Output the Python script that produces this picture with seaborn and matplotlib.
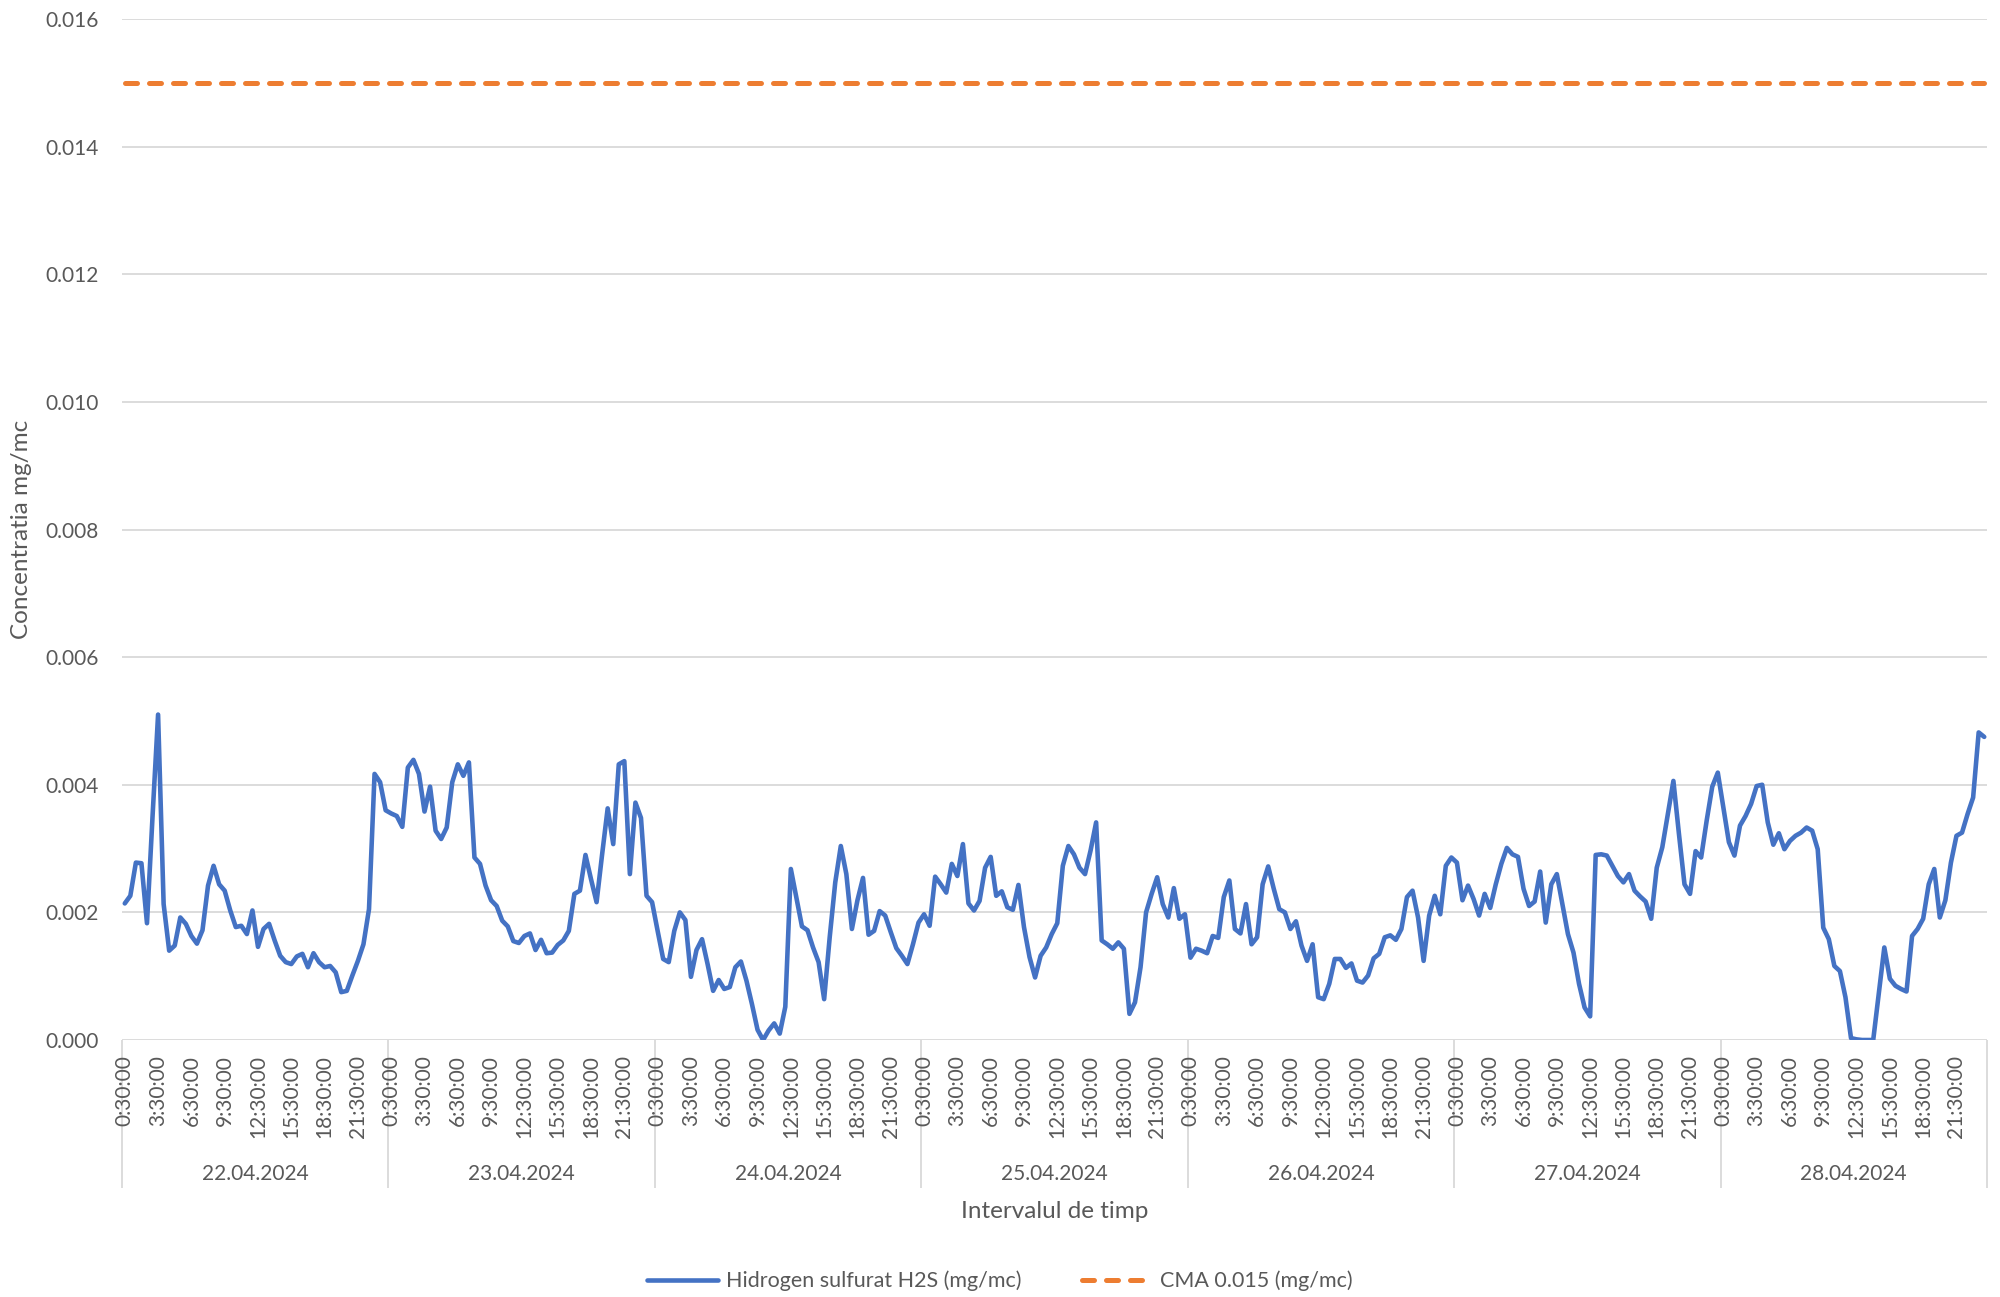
import numpy as np
import pandas as pd
import matplotlib
matplotlib.use("Agg")
import matplotlib.pyplot as plt
from matplotlib.lines import Line2D
import seaborn as sns

# ---------------- data ----------------
dates = ["22.04.2024", "23.04.2024", "24.04.2024", "25.04.2024",
         "26.04.2024", "27.04.2024", "28.04.2024"]
time_tick_labels = ["0:30:00", "3:30:00", "6:30:00", "9:30:00",
                    "12:30:00", "15:30:00", "18:30:00", "21:30:00"]
points_per_day = 48          # half-hourly readings, 0:30 ... 24:00
tick_every = 6               # one label every 3 hours

h2s_22 = [0.00214, 0.00226, 0.00278, 0.00277, 0.00183, 0.00350, 0.00510, 0.00213, 0.00140, 0.00148,
          0.00192, 0.00182, 0.00163, 0.00151, 0.00172, 0.00242, 0.00273, 0.00244, 0.00234, 0.00203,
          0.00177, 0.00179, 0.00166, 0.00203, 0.00146, 0.00174, 0.00182, 0.00156, 0.00132, 0.00122,
          0.00119, 0.00131, 0.00135, 0.00114, 0.00136, 0.00122, 0.00114, 0.00116, 0.00106, 0.00075,
          0.00077, 0.00101, 0.00124, 0.00150, 0.00205, 0.00417, 0.00404, 0.00360]
h2s_23 = [0.00355, 0.00351, 0.00334, 0.00427, 0.00439, 0.00417, 0.00358, 0.00397, 0.00328, 0.00315,
          0.00333, 0.00404, 0.00432, 0.00414, 0.00435, 0.00286, 0.00276, 0.00242, 0.00219, 0.00210,
          0.00187, 0.00178, 0.00155, 0.00152, 0.00163, 0.00167, 0.00141, 0.00157, 0.00136, 0.00137,
          0.00149, 0.00156, 0.00171, 0.00229, 0.00234, 0.00290, 0.00252, 0.00216, 0.00291, 0.00363,
          0.00307, 0.00432, 0.00437, 0.00260, 0.00372, 0.00348, 0.00226, 0.00216]
h2s_24 = [0.00171, 0.00127, 0.00122, 0.00171, 0.00200, 0.00188, 0.00099, 0.00141, 0.00158, 0.00119,
          0.00077, 0.00094, 0.00080, 0.00083, 0.00114, 0.00123, 0.00093, 0.00056, 0.00016, 0.00000,
          0.00015, 0.00026, 0.00010, 0.00052, 0.00268, 0.00223, 0.00178, 0.00172, 0.00145, 0.00122,
          0.00064, 0.00161, 0.00247, 0.00304, 0.00260, 0.00174, 0.00219, 0.00254, 0.00165, 0.00171,
          0.00202, 0.00195, 0.00169, 0.00144, 0.00132, 0.00119, 0.00150, 0.00184]
h2s_25 = [0.00197, 0.00179, 0.00256, 0.00244, 0.00231, 0.00276, 0.00257, 0.00307, 0.00214, 0.00203,
          0.00218, 0.00270, 0.00287, 0.00226, 0.00233, 0.00208, 0.00204, 0.00243, 0.00177, 0.00130,
          0.00098, 0.00132, 0.00145, 0.00166, 0.00183, 0.00273, 0.00304, 0.00291, 0.00270, 0.00260,
          0.00297, 0.00341, 0.00156, 0.00150, 0.00143, 0.00153, 0.00143, 0.00041, 0.00059, 0.00114,
          0.00200, 0.00229, 0.00255, 0.00213, 0.00192, 0.00238, 0.00190, 0.00197]
h2s_26 = [0.00129, 0.00143, 0.00140, 0.00136, 0.00163, 0.00160, 0.00224, 0.00250, 0.00174, 0.00167,
          0.00213, 0.00150, 0.00161, 0.00244, 0.00272, 0.00237, 0.00205, 0.00200, 0.00174, 0.00186,
          0.00148, 0.00124, 0.00150, 0.00067, 0.00064, 0.00088, 0.00127, 0.00127, 0.00113, 0.00120,
          0.00093, 0.00090, 0.00101, 0.00128, 0.00135, 0.00161, 0.00164, 0.00157, 0.00174, 0.00224,
          0.00234, 0.00192, 0.00124, 0.00195, 0.00226, 0.00197, 0.00273, 0.00286]
h2s_27 = [0.00278, 0.00219, 0.00242, 0.00221, 0.00195, 0.00229, 0.00207, 0.00244, 0.00276, 0.00301,
          0.00291, 0.00287, 0.00237, 0.00210, 0.00217, 0.00264, 0.00184, 0.00244, 0.00260, 0.00213,
          0.00166, 0.00137, 0.00088, 0.00051, 0.00037, 0.00290, 0.00291, 0.00289, 0.00273, 0.00257,
          0.00247, 0.00260, 0.00234, 0.00225, 0.00217, 0.00190, 0.00270, 0.00302, 0.00354, 0.00406,
          0.00323, 0.00244, 0.00229, 0.00296, 0.00286, 0.00344, 0.00397, 0.00419]
h2s_28 = [0.00364, 0.00310, 0.00289, 0.00336, 0.00351, 0.00370, 0.00398, 0.00400, 0.00341, 0.00306,
          0.00324, 0.00299, 0.00312, 0.00320, 0.00325, 0.00333, 0.00328, 0.00299, 0.00176, 0.00158,
          0.00116, 0.00108, 0.00067, 0.00003, 0.00001, 0.00000, 0.00000, 0.00000, 0.00072, 0.00145,
          0.00096, 0.00085, 0.00080, 0.00076, 0.00163, 0.00174, 0.00190, 0.00244, 0.00268, 0.00192,
          0.00219, 0.00278, 0.00320, 0.00325, 0.00354, 0.00380, 0.00482, 0.00475]
cma_limit = 0.015

series_label = "Hidrogen sulfurat H2S (mg/mc)"
cma_label = "CMA 0.015 (mg/mc)"
x_title = "Intervalul de timp"
y_title = "Concentratia mg/mc"

# ---------------- build table ----------------
h2s = h2s_22 + h2s_23 + h2s_24 + h2s_25 + h2s_26 + h2s_27 + h2s_28
n = len(h2s)
df = pd.DataFrame({"idx": np.arange(n), "h2s": h2s, "cma": [cma_limit] * n})

# ---------------- style ----------------
sns.set_style("white")
plt.rcParams['font.family'] = ['Lato', 'DejaVu Sans']
TXT = "#595959"
GRID = "#d9d9d9"
BLUE = "#4472C4"
ORANGE = "#ED7D31"
BLUE_LW = 3.3
ORANGE_LW = 3.6

W, H = 2000, 1297
fig = plt.figure(figsize=(W / 100, H / 100), dpi=100)
L, R, T, B = 122, 1987, 19, 1040
ax = fig.add_axes([L / W, 1 - B / H, (R - L) / W, (B - T) / H])

sns.lineplot(data=df, x="idx", y="h2s", ax=ax, color=BLUE, lw=BLUE_LW,
             solid_joinstyle="round", solid_capstyle="round", legend=False)
sns.lineplot(data=df, x="idx", y="cma", ax=ax, color=ORANGE, lw=ORANGE_LW,
             linestyle=(0, (2.4, 2.4)), dash_capstyle="round", legend=False)

ax.set_xlim(-0.5, n - 0.5)
ax.set_ylim(0, 0.016)
ax.set_yticks(np.arange(0, 0.0161, 0.002))
ax.set_yticklabels([f"{v:.3f}" for v in np.arange(0, 0.0161, 0.002)])

ndays = len(dates)
xt = [d * points_per_day + k * tick_every for d in range(ndays)
      for k in range(len(time_tick_labels))]
ax.set_xticks(xt)
ax.set_xticklabels(time_tick_labels * ndays, rotation=90)

ax.tick_params(axis="x", length=0, pad=11, labelsize=15, labelcolor=TXT)
ax.tick_params(axis="y", length=0, pad=16.5, labelsize=15, labelcolor=TXT)
ax.set_xlabel("")
ax.set_ylabel("")
for s in ax.spines.values():
    s.set_visible(False)
ax.yaxis.grid(True, color=GRID, lw=1.3)
ax.xaxis.grid(False)
ax.set_axisbelow(True)

# multi-level category axis
ph = B - T
trans = ax.get_xaxis_transform()
bounds = [d * points_per_day - 0.5 for d in range(ndays + 1)]
ax.vlines(bounds, -(1188 - B) / ph, 0, transform=trans, colors=GRID, lw=1.3,
          clip_on=False, zorder=0.5)
for d, lab in enumerate(dates):
    ax.text(d * points_per_day + (points_per_day - 1) / 2, -(1174 - B) / ph, lab,
            transform=trans, ha="center", va="center", fontsize=15, color=TXT)

fig.text((L + R) / 2 / W, 1 - 1212 / H, x_title, ha="center", va="center",
         fontsize=17.5, color=TXT)
fig.text(22 / W, 1 - 529 / H, y_title, ha="center", va="center", rotation=90,
         fontsize=17.5, color=TXT)

handles = [Line2D([], [], color=BLUE, lw=BLUE_LW, solid_capstyle="round"),
           Line2D([], [], color=ORANGE, lw=ORANGE_LW, linestyle=(0, (2.4, 2.4)),
                  dash_capstyle="round")]
leg = fig.legend(handles, [series_label, cma_label], loc="center",
                 bbox_to_anchor=(0.5, 1 - 1281 / H), ncol=2, frameon=False,
                 fontsize=15.5, handlelength=3.3, handletextpad=0.35,
                 columnspacing=2.8)
for t in leg.get_texts():
    t.set_color(TXT)

fig.savefig("out.png", dpi=100, facecolor="white")
